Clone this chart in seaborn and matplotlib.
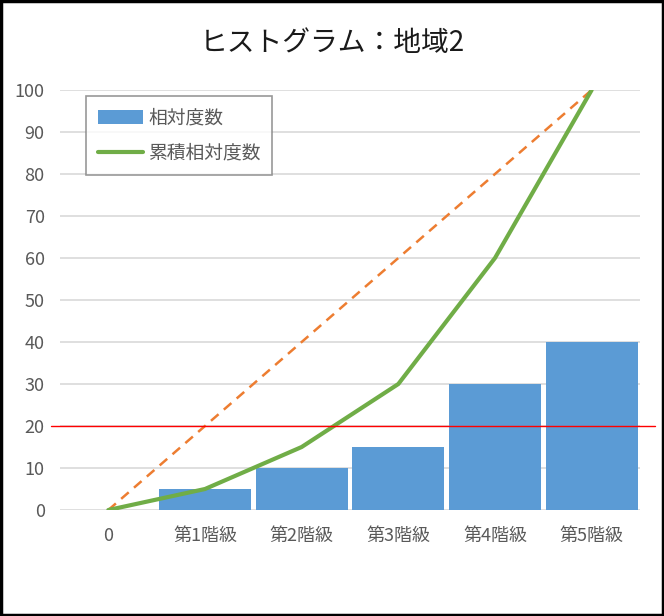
import numpy as np
import pandas as pd
import matplotlib
matplotlib.use("Agg")
import matplotlib.pyplot as plt
import seaborn as sns
from matplotlib.patches import Patch, Rectangle
from matplotlib.lines import Line2D

# data
categories = ["0", "第1階級", "第2階級", "第3階級", "第4階級", "第5階級"]
rel_freq = [0, 5, 10, 15, 30, 40]
cum_rel_freq = [0, 5, 15, 30, 60, 100]
equal_line = [0, 20, 40, 60, 80, 100]
threshold = 20

BLUE = "#5B9BD5"
GREEN = "#70AD47"
ORANGE = "#ED7D31"
RED = "#FF0000"
GRAY_TXT = "#595959"

sns.set_style("white")
plt.rcParams["font.family"] = ["Noto Sans CJK JP", "DejaVu Sans"]

df = pd.DataFrame({"cat": categories, "rel": rel_freq,
                   "cum": cum_rel_freq, "eq": equal_line})
df["pos"] = np.arange(len(df))

fig = plt.figure(figsize=(6.64, 6.16), dpi=100)
ax = fig.add_axes([60 / 664, 106 / 616, 580 / 664, 420 / 616])

# bars
sns.barplot(data=df, x="cat", y="rel", color=BLUE, width=0.95,
            saturation=1, linewidth=0, ax=ax, zorder=2)

# lines
sns.lineplot(data=df, x="pos", y="eq", color=ORANGE, linestyle=(0, (4, 2.8)),
             linewidth=1.8, ax=ax, zorder=3)
sns.lineplot(data=df, x="pos", y="cum", color=GREEN, linewidth=3,
             ax=ax, zorder=4)
ax.axhline(threshold, xmin=-0.016, xmax=1.026, color=RED, linewidth=1,
           clip_on=False, zorder=5)

ax.set_xlim(-0.5, len(categories) - 0.5)
ax.set_ylim(0, 100)
ax.set_yticks(np.arange(0, 101, 10))
ax.yaxis.grid(True, color="#D9D9D9", linewidth=1.2, zorder=0)
ax.set_axisbelow(True)
for s in ax.spines.values():
    s.set_visible(False)
ax.set_xlabel("")
ax.set_ylabel("")
ax.set_xticks(df["pos"])
ax.set_xticklabels(categories)
ax.tick_params(axis="x", length=0, pad=12, labelsize=13, labelcolor=GRAY_TXT)
ax.tick_params(axis="y", length=0, pad=11, labelsize=13, labelcolor=GRAY_TXT)

# title is centred on the whole chart, not on the plot area
ax.set_title("ヒストグラム：地域2", fontsize=20, color="#1a1a1a", pad=28,
             x=(332 - 60) / 580)

handles = [Patch(facecolor=BLUE, edgecolor="none"),
           Line2D([0], [0], color=GREEN, linewidth=3)]
leg = ax.legend(handles, ["相対度数", "累積相対度数"], loc="upper left",
                bbox_to_anchor=(0.045, 0.986), borderaxespad=0,
                fancybox=False, frameon=True,
                fontsize=13.5, handlelength=2.4, labelspacing=0.75,
                borderpad=0.62, handletextpad=0.3, labelcolor=GRAY_TXT)
leg.get_frame().set_edgecolor("#7F7F7F")
leg.get_frame().set_linewidth(1.2)

# outer black border of the chart area
fig.patches.append(Rectangle((0.002, 0.002), 0.996, 0.996,
                             transform=fig.transFigure, fill=False,
                             edgecolor="black", linewidth=2.5))

fig.savefig("out.png", dpi=100)
